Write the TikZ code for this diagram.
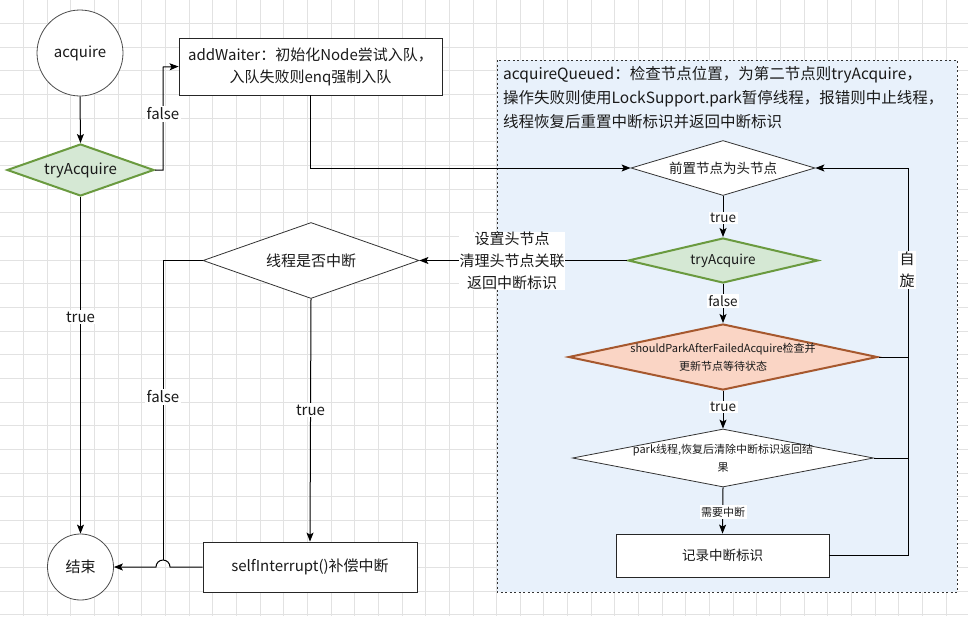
\documentclass[tikz,border=0pt]{standalone}
\usepackage{fontspec}
\setmainfont{Noto Sans CJK SC}
\usetikzlibrary{shapes.geometric,arrows.meta}
\definecolor{gridc}{HTML}{E2E2E2}
\definecolor{boxfill}{HTML}{E8F1FB}
\definecolor{gfill}{HTML}{D5E8D4}
\definecolor{gdraw}{HTML}{6A9A3F}
\definecolor{ofill}{HTML}{FAD5C5}
\definecolor{odraw}{HTML}{A6582E}
\definecolor{txtc}{HTML}{1A1A1A}
\tikzset{
  fsbig/.style={font=\fontsize{15pt}{22pt}\selectfont, text=txtc},
  fstitle/.style={font=\fontsize{15.5pt}{24pt}\selectfont, text=txtc},
  fsmid/.style={font=\fontsize{13.5pt}{18pt}\selectfont, text=txtc},
  fssmall/.style={font=\fontsize{11pt}{18pt}\selectfont, text=txtc},
  conn/.style={draw=black, line width=1pt},
  arr/.style={conn, -{Stealth[length=9pt,width=7pt,inset=2pt]}},
  circ/.style={circle, draw=black!70, line width=0.8pt, fill=white, inner sep=0pt, fsbig},
  rectbox/.style={rectangle, draw=black!85, line width=0.8pt, fill=white, inner sep=0pt, align=center},
  dia/.style={diamond, draw=black!80, line width=0.8pt, fill=white, inner sep=0pt},
  greendia/.style={dia, fill=gfill, draw=gdraw, line width=2pt},
  orangedia/.style={dia, fill=ofill, draw=odraw, line width=2pt},
  elabel/.style={fill=white, inner sep=1.5pt, align=center},
}
\begin{document}
\begin{tikzpicture}[x=1pt,y=-1pt]
\useasboundingbox (0,0) rectangle (968,616);
\fill[white] (0,0) rectangle (968,616);
% grid
\foreach \i in {1,...,40} \draw[gridc, line width=1pt] ({\i*23.65},0) -- ({\i*23.65},616);
\foreach \j in {1,...,26} \draw[gridc, line width=1pt] (0,{\j*23.65}) -- (968,{\j*23.65});
% dashed container
\draw[fill=boxfill, draw=black!80, line width=1pt, dash pattern=on 2pt off 2.5pt] (497,60) rectangle (957,592);
\node[fstitle, anchor=north west, align=left, inner sep=0pt] (title) at (503,66)
  {acquireQueued：检查节点位置，为第二节点则tryAcquire，\\
   操作失败则使用LockSupport.park暂停线程，报错则中止线程，\\
   线程恢复后重置中断标识并返回中断标识};

% nodes
\node[circ, minimum size=86pt] (acq) at (80,53) {acquire};
\node[greendia, minimum width=147pt, minimum height=52pt, label={[fsbig]center:tryAcquire}] (ta1) at (80.5,170) {};
\node[rectbox, fsbig, minimum width=263pt, minimum height=57pt] (aw) at (310.5,66.5)
  {addWaiter：初始化Node尝试入队，\\入队失败则enq强制入队};
\node[circ, minimum size=66pt] (end) at (80.5,567) {结束};
\node[dia, minimum width=216pt, minimum height=76pt, label={[fsbig]center:线程是否中断}] (th) at (311,260.5) {};
\node[rectbox, fsbig, minimum width=214pt, minimum height=50pt] (si) at (310,567) {selfInterrupt()补偿中断};

\node[dia, minimum width=184pt, minimum height=55pt, label={[fsmid]center:前置节点为头节点}] (pre) at (723,168) {};
\node[greendia, minimum width=190pt, minimum height=45pt, label={[fsmid]center:tryAcquire}] (ta2) at (723,260.5) {};
\node[orangedia, minimum width=309pt, minimum height=66pt,
  label={[fssmall, align=center]center:shouldParkAfterFailedAcquire检查并\\更新节点等待状态}] (sp) at (723,357) {};
\node[dia, minimum width=301pt, minimum height=58pt,
  label={[fssmall, align=center]center:park线程,恢复后清除中断标识返回结\\果}] (pk) at (723,458) {};
\node[rectbox, fsmid, minimum width=213pt, minimum height=43pt] (rec) at (722.5,555.5) {记录中断标识};

% coordinates
\coordinate (c1) at (163,170);
\coordinate (c2) at (163,67);
\coordinate (hoptop) at (163,560);
\coordinate (spin) at (908,357);

% connectors
\draw[arr] (acq.south) -- (ta1.north);
\draw[arr] (ta1.east) -- (c1) -- (c2) -- (aw.west);
\node[elabel, fsbig] (lf1) at (163,114) {false};
\draw[arr] (ta1.south) -- (end.north);
\node[elabel, fsbig] (lt1) at (80.5,317) {true};
\draw[arr] (aw.south) |- (pre.west);
\draw[arr] (pre.south) -- (ta2.north);
\node[elabel, fsmid] (lt2) at (723,218) {true};
\draw[arr] (ta2.west) -- (th.east);
\node[elabel, fsbig, inner sep=0.5pt] (lset) at (512,261) {设置头节点\\清理头节点关联\\返回中断标识};
\draw[conn] (th.west) -| (hoptop);
\node[elabel, fsbig] (lf2) at (163,397) {false};
\draw[arr] (th.south) -- (si.north);
\node[elabel, fsbig] (lt3) at (310.5,410) {true};
\draw[arr] (si.west) -- (170,567) arc[start angle=0, end angle=180, radius=7pt] -- (end.east);
\draw[arr] (ta2.south) -- (sp.north);
\node[elabel, fsmid] (lf3) at (723,301) {false};
\draw[arr] (sp.east) -- (spin) |- (pre.east);
\node[elabel, fsbig] (lspin) at (907,270) {自\\旋};
\draw[arr] (sp.south) -- (pk.north);
\node[elabel, fsmid] (lt4) at (723,407) {true};
\draw[conn] (pk.east) -- (pk.east -| spin);
\draw[conn] (rec.east) -| (spin);
\draw[arr] (pk.south) -- (rec.north);
\node[elabel, fssmall] (lneed) at (723,512) {需要中断};
\end{tikzpicture}
\end{document}
